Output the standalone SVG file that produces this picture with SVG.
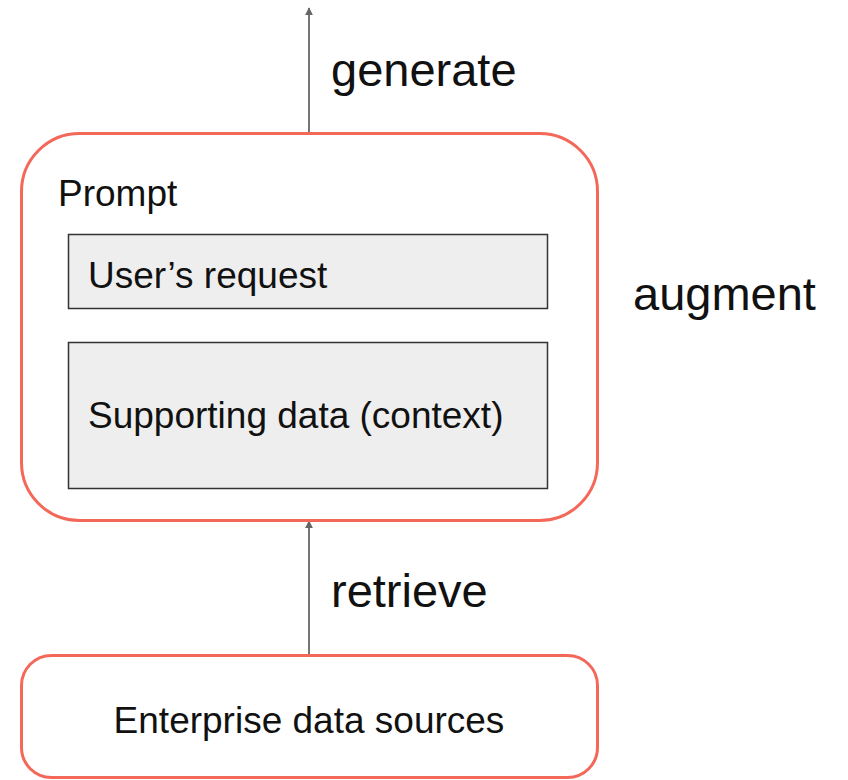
<svg xmlns="http://www.w3.org/2000/svg" width="848" height="780" viewBox="0 0 848 780">
  <style>
    text { font-family: "Liberation Sans", Arial, sans-serif; fill: #111; }
    .label { font-size: 47px; }
    .body { font-size: 37px; }
    .outer { fill: #fff; stroke: #f4685a; stroke-width: 3; }
    .inner { fill: #eeeeee; stroke: #333; stroke-width: 1.5; }
    .edge { stroke: #666; stroke-width: 1.8; fill: none; marker-end: url(#arrow); }
  </style>
  <defs>
    <marker id="arrow" viewBox="0 0 10 10" refX="9" refY="5" markerWidth="8" markerHeight="8" markerUnits="userSpaceOnUse" orient="auto">
      <path d="M0,0 L10,5 L0,10 z" fill="#666"/>
    </marker>
  </defs>
  <rect width="848" height="780" fill="#fff"/>

  <g id="connectors">
    <line class="edge" x1="309" y1="134" x2="309" y2="8"/>
    <line class="edge" x1="309" y1="655" x2="309" y2="521"/>
  </g>

  <g id="prompt">
    <rect class="outer" x="21.5" y="133.5" width="576" height="387" rx="58" ry="58"/>
    <text class="body" x="58" y="206">Prompt</text>
  </g>

  <g id="user-request">
    <rect class="inner" x="68.5" y="234.5" width="479" height="74"/>
    <text class="body" x="88" y="288">User’s request</text>
  </g>

  <g id="supporting-data">
    <rect class="inner" x="68.5" y="342.5" width="479" height="146"/>
    <text class="body" x="88" y="428">Supporting data (context)</text>
  </g>

  <g id="enterprise-data">
    <rect class="outer" x="21.5" y="655.5" width="576" height="122" rx="30" ry="30"/>
    <text class="body" x="309" y="733" text-anchor="middle">Enterprise data sources</text>
  </g>

  <g id="labels">
    <text class="label" x="331" y="86">generate</text>
    <text class="label" x="633" y="310">augment</text>
    <text class="label" x="331" y="607">retrieve</text>
  </g>
</svg>
